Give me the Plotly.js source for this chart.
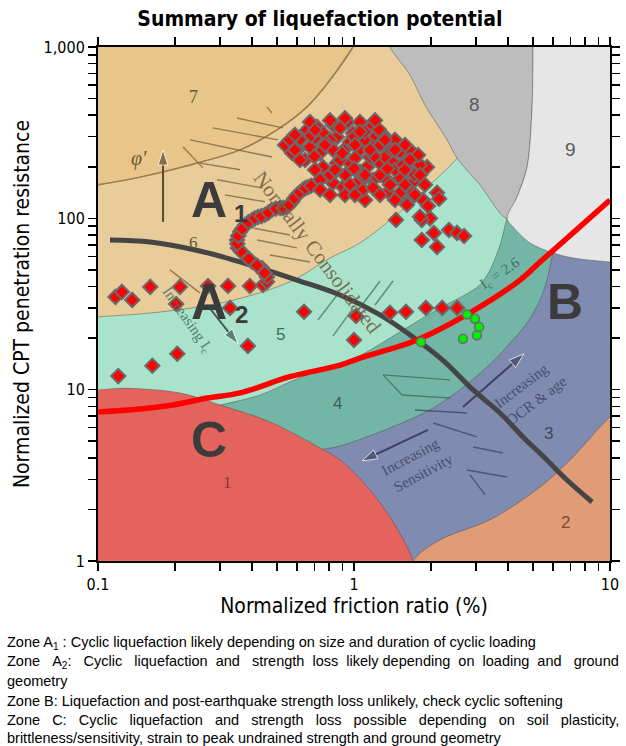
<!DOCTYPE html>
<html><head><meta charset="utf-8">
<script src="https://cdn.plot.ly/plotly-3.0.1.min.js"></script>
<style>html,body{margin:0;padding:0;background:#fff}</style>
</head><body><div id="chart" style="width:626px;height:746px"></div>
<script>
// ---------------- data ----------------
const xTickVals = [0.1,0.2,0.3,0.4,0.5,0.6,0.7,0.8,0.9,1,2,3,4,5,6,7,8,9,10];
const xTickText = ['0.1','','','','','','','','','1','','','','','','','','','10'];
const yTickVals = [1,2,3,4,5,6,7,8,9,10,20,30,40,50,60,70,80,90,100,200,300,400,500,600,700,800,900,1000];
const yTickText = ['1','','','','','','','','','10','','','','','','','','','100','','','','','','','','','1,000'];

// measured CPT points (normalized friction ratio %, normalized tip resistance)
const rfRed = [0.117,0.124,0.136,0.160,0.209,0.202,0.269,0.322,0.328,0.392,0.441,0.457,0.385,0.204,0.163,0.120,
 0.638,1.018,1.00,1.382,1.596,1.91,2.21,2.53,
 1.055,1.298,1.685,1.928,1.104,1.459,1.596,1.70,1.86,1.945,2.11,2.15,1.98,1.84,2.05,1.84,2.11,2.35,2.525,2.69,
 0.457,0.437,0.400,0.375,0.352,0.349,0.359,0.375,0.400,0.422,0.449,0.478,0.514,0.547,0.573,0.599,0.632,0.661,0.704,
 0.447,0.418,0.388,0.362,0.350,0.353,0.366,0.387,0.41,0.435,0.463,0.495,0.53,0.56,0.585,0.615,0.645,0.68,
 0.538,0.573,0.655,0.717,0.828,0.939,0.757,0.858,0.991,1.186,1.298,0.673,0.737,0.828,0.939,1.055,1.186,1.345,1.513,1.685,
 0.757,0.858,0.965,1.124,1.264,1.42,1.61,1.81,0.737,0.828,0.906,1.027,1.186,1.345,1.513,1.70,1.084,1.186,1.358,1.513,1.70,1.61,1.81,
 0.615,0.704,0.882,1.155,1.446,1.582,0.644,0.704,0.806,0.922,1.055,1.264,1.446,1.654,0.882,1.009,1.155,1.32,0.806,0.965,1.104,1.264,
 0.922,1.009,1.264,1.382,1.582,1.73,1.778,
 0.70,0.78,0.90,1.00,1.10,1.20,1.40,1.00,1.10,0.85,1.35,1.55,0.60,0.68,1.25,
 0.673,0.806,1.208,0.922,0.562,0.588,0.615,0.770,1.009,1.155,1.446,1.654,1.81,1.893,1.73,0.843,0.965,1.104,1.446,
 0.704,0.588,1.055,1.32,1.58,0.806,0.737];
const qtRed = [34.8,37.2,33.4,39.8,39.8,31.6,40.3,40.3,30.0,40.3,40.8,42.6,18.0,16.2,13.8,12.0,
 28.5,26.9,19.5,28.1,28.5,30.0,30.0,30.0,
 365,298,241,199,128,97.9,123,139,128,118,141,130,100,97.9,82.2,74.8,68.1,85.5,82.2,78.9,
 45.5,51.3,55.6,61.1,67.2,74.8,83.4,91.4,97.9,102,105,112,115,116,125,137,147,152,157,
 48,53,58,64,71,79,87,95,100,103,108,114,115,120,131,142,150,155,
 268,241,328,342,351,365,315,298,315,298,307,261,241,251,261,251,261,268,244,244,
 199,210,210,199,210,213,213,205,168,161,152,161,168,168,172,163,147,151,143,141,141,120,102,
 287,294,337,337,287,268,219,192,179,179,187,179,192,187,219,225,228,228,287,279,287,268,
 137,137,137,157,157,179,234,
 230,275,240,300,320,230,250,195,172,190,195,205,250,305,330,
 365,373,373,384,287,251,219,268,268,251,251,219,179,157,137,192,157,179,128,
 328,307,320,287,192,137,147];
const rfGreen = [1.827,2.665,2.763,2.97,3.08,3.02];
const qtGreen = [19.0,19.8,27.5,25.9,23.2,20.8];

// trend curves
const blackX = [0.1114,0.160,0.250,0.392,0.599,0.882,1.264,1.763,2.265,2.92,3.72,4.57,5.57,6.79,8.51];
const blackY = [74.8,72.8,64.5,53.5,43.6,35.7,27.3,19.5,14.5,9.96,7.31,5.30,3.99,2.97,2.21];
const redX = [0.1,0.146,0.196,0.267,0.359,0.562,0.882,1.055,1.763,2.92,4.45,5.33,7.17,10];
const redY = [7.41,7.71,8.14,8.94,9.57,11.9,13.9,15.3,19.5,28.8,43.6,55.6,82.2,128];

// soil behaviour type zone outlines (background chart)
const zone6X = [0.05,0.1,0.146,0.229,0.359,0.500,0.655,0.806,0.991,1.1,20,20,0.05];
const zone6Y = [140,157,174,205,251,328,447,642,1000,1600,3000,0.4,0.4];
const zone5X = [0.05,0.1,0.175,0.316,0.562,0.806,1.055,1.513,1.98,2.55,3.40,20,20,0.05];
const zone5Y = [25,26.6,28.4,32.5,42.6,58.7,71.8,109,157,228,429,600,0.4,0.4];
const zone4X = [0.22,0.300,0.430,0.562,0.757,1.027,1.382,1.654,2.17,2.71,3.10,3.40,3.72,3.96,4.14,20,20,0.22];
const zone4Y = [7.5,8.14,9.31,11.1,13.2,15.5,20.0,23.6,30.0,35.7,40.8,50.0,70.0,100,120,140,0.4,0.4];
const zone3X = [0.6,0.737,0.882,1.382,2.04,2.71,3.40,4.07,4.74,5.33,5.67,5.99,6.15,20,20,0.6];
const zone3Y = [4.2,4.45,4.69,5.98,7.82,10.5,14.1,18.7,24.5,33.4,43.6,62.8,71.8,75,0.4,0.4];
const zone2X = [1.5,1.70,2.17,3.40,5.33,7.17,10,14,20];
const zone2Y = [0.5,1,1.33,1.74,2.70,4.05,6.93,10,0.4];
const zone8X = [1.3,1.382,1.654,1.893,2.31,2.525,3.10,3.96,4.33,4.74,4.96,5.0,5.0];
const zone8Y = [1400,1000,687,459,287,225,157,100,133,199,447,1000,1400];
const zone9X = [5.0,5.0,4.96,4.74,4.33,3.96,4.18,4.87,5.99,7.17,10,14,20];
const zone9Y = [1400,1000,447,199,133,100,89.1,71.8,62.8,58.7,55.6,54,3000];
const zone1X = [0.05,0.1,0.125,0.209,0.300,0.470,0.737,0.882,1.155,1.446,1.70,1.9,0.05];
const zone1Y = [9.6,9.96,10.2,9.57,8.14,6.48,4.57,3.89,2.60,1.62,1,0.4,0.4];
const arc76X = [0.1,0.146,0.229,0.359,0.500,0.655,0.806,0.991];
const arc76Y = [157,174,205,251,328,447,642,1000];

// hatch marks and arrows of the background chart
const hatchBrownX = [0.349,0.528,null,0.281,0.505,null,0.229,0.478,null,0.215,0.257,null,0.250,0.359,null,0.292,0.441,null,0.313,0.449,null,0.382,0.562,null,0.418,0.599,null,0.470,0.673,null,0.191,0.250,null,0.457,0.478];
const hatchBrownY = [385,337,null,337,287,null,287,228,null,261,197,null,210,192,null,168,150,null,137,125,null,89.1,80.0,null,74.8,67.2,null,61.1,55.6,null,50.0,36.7,null,447,412];
const hatchTealX = [1.208,1.420,null,1.075,1.264,null,0.723,0.866,null,0.828,0.982,null,1.298,2.371,null,1.298,1.54,null,1.54,2.371];
const hatchTealY = [31.2,43.1,null,31.2,43.1,null,25.5,36.2,null,20.6,29.2,null,12.2,11.4,null,12.2,9.31,null,9.31,8.94];
const hatchBlueX = [1.73,2.763,null,2.04,3.02,null,2.92,3.82,null,2.763,3.96,null,2.84,3.25];
const hatchBlueY = [7.61,7.31,null,6.39,5.30,null,4.63,4.27,null,3.40,3.09,null,3.18,2.43];
const arrowPhiX = [0.1795,0.1795], arrowPhiY = [95.3,251];
const arrowIcX = [0.267,0.352], arrowIcY = [31.2,18.5];
const arrowOcrX = [2.665,4.61], arrowOcrY = [7.92,16.2];
const arrowSensX = [1.945,1.075], arrowSensY = [5.82,3.84];

// ---------------- drawing ----------------
const edge = 'rgba(70,70,60,0.45)';
function zone(x, y, color) {
  return {x: x, y: y, type: 'scatter', mode: 'lines', fill: 'toself', fillcolor: color,
    line: {color: edge, width: 1, shape: 'spline', smoothing: 0.9}, hoverinfo: 'skip', showlegend: false};
}
function lines(x, y, color, w, shape) {
  return {x: x, y: y, type: 'scatter', mode: 'lines', line: {color: color, width: w, shape: shape || 'linear'},
    hoverinfo: 'skip', showlegend: false, connectgaps: false};
}
function arrowTrace(x, y, color) {
  return {x: x, y: y, type: 'scatter', mode: 'lines+markers', line: {color: color, width: 2},
    marker: {symbol: 'arrow', size: [0, 16], color: color, angleref: 'previous', standoff: 0},
    hoverinfo: 'skip', showlegend: false};
}

const traces = [
  zone(zone6X, zone6Y, '#e8cc99'),
  zone(zone5X, zone5Y, '#a9e3cb'),
  zone(zone4X, zone4Y, '#74b6a5'),
  zone(zone3X, zone3Y, '#7f8bb0'),
  zone(zone2X, zone2Y, '#e09b77'),
  zone(zone8X, zone8Y, '#bdbdbd'),
  zone(zone9X, zone9Y, '#e6e6e6'),
  zone(zone1X, zone1Y, '#e4645d'),
  lines(arc76X, arc76Y, '#9a7b50', 1.5, 'spline'),
  lines(hatchBrownX, hatchBrownY, 'rgba(120,95,60,0.75)', 1.4),
  lines(hatchTealX, hatchTealY, 'rgba(60,100,90,0.7)', 1.4),
  lines(hatchBlueX, hatchBlueY, 'rgba(55,65,90,0.7)', 1.4),
  arrowTrace(arrowPhiX, arrowPhiY, '#5a4a30'),
  arrowTrace(arrowIcX, arrowIcY, '#3d5a55'),
  arrowTrace(arrowOcrX, arrowOcrY, '#3f4560'),
  arrowTrace(arrowSensX, arrowSensY, '#3f4560'),
  {x: blackX, y: blackY, type: 'scatter', mode: 'lines', line: {color: '#454545', width: 5, shape: 'spline'}, showlegend: false},
  {x: redX, y: redY, type: 'scatter', mode: 'lines', line: {color: '#ff0000', width: 5.5, shape: 'spline'}, showlegend: false},
  {x: rfRed, y: qtRed, type: 'scatter', mode: 'markers', showlegend: false,
    marker: {symbol: 'diamond', size: 11, color: '#ff0000', line: {color: '#6a6a6a', width: 2}}},
  {x: rfGreen, y: qtGreen, type: 'scatter', mode: 'markers', showlegend: false,
    marker: {symbol: 'circle', size: 9, color: '#00ee00', line: {color: '#6a6a6a', width: 1.5}}}
];

// helpers for annotation placement (pixel position inside the figure -> paper)
function P(px, py) { return {x: (px - 98) / 512, y: (561 - py) / 514}; }
function label(text, px, py, size, color, family, angle) {
  const p = P(px, py);
  return {xref: 'paper', yref: 'paper', x: p.x, y: p.y, text: text, showarrow: false,
    xanchor: 'center', yanchor: 'middle', textangle: angle || 0,
    font: {size: size, color: color, family: family}};
}
const SANS = 'Liberation Sans, Arial, sans-serif';
const SERIF = 'Liberation Serif, DejaVu Serif, serif';
const BIG = 'Liberation Sans, Arial, sans-serif';
const N3 = '\u00a0\u00a0\u00a0', N2 = '\u00a0\u00a0';

const notes = [
  'Zone A<sub>1</sub> : Cyclic liquefaction likely depending on size and duration of cyclic loading',
  'Zone' + N3 + 'A<sub>2</sub>:' + N3 + 'Cyclic' + N3 + 'liquefaction' + N2 + 'and' + N3 + 'strength' + N2 + 'loss' + N2 +
    'likely depending' + N2 + 'on' + N2 + 'loading' + N2 + 'and' + N3 + 'ground',
  'geometry',
  'Zone B: Liquefaction and post-earthquake strength loss unlikely, check cyclic softening',
  ['Zone', 'C:', 'Cyclic', 'liquefaction', 'and', 'strength', 'loss', 'possible', 'depending', 'on', 'soil', 'plasticity,'].join(N3),
  'brittleness/sensitivity, strain to peak undrained strength and ground geometry'
];
const noteY = [643, 662, 681, 701, 720, 738];

const annotations = [
  label('7', 193, 97, 18, '#6b5535', SERIF),
  label('6', 193, 242, 17, '#6b5535', SERIF),
  label('5', 280, 334, 17, '#3d6a60', SANS),
  label('4', 337, 403, 17, '#3b5f58', SANS),
  label('3', 548, 433, 17, '#3f4560', SANS),
  label('2', 565, 522, 17, '#7a4a35', SANS),
  label('1', 227, 482, 17, '#8a3535', SERIF),
  label('8', 474, 104, 19, '#5a5a5a', SANS),
  label('9', 570, 150, 19, '#5a5a5a', SANS),
  label('<b>A</b>', 209, 200, 50, '#3b3b3b', BIG),
  label('<b>1</b>', 240, 214, 24, '#3b3b3b', BIG),
  label('<b>A</b>', 209, 302, 50, '#3b3b3b', BIG),
  label('<b>2</b>', 241, 315, 24, '#3b3b3b', BIG),
  label('<b>C</b>', 209, 440, 50, '#3b3b3b', BIG),
  label('<b>B</b>', 565, 302, 50, '#3b3b3b', BIG),
  label('<i>φ\'</i>', 139, 158, 20, '#6b5535', SERIF),
  label('Normally Consolidated', 317, 252, 21, 'rgba(110,90,60,0.85)', SERIF, 53),
  label('Increasing I<sub>c</sub>', 187, 320, 15, 'rgba(70,110,100,0.9)', SERIF, 55),
  label('I<sub>c</sub> = 2.6', 500, 274, 15, 'rgba(60,100,90,0.9)', SERIF, -34),
  label('Increasing', 521, 386, 15, 'rgba(60,70,100,0.9)', SERIF, -37),
  label('OCR & age', 536, 401, 15, 'rgba(60,70,100,0.9)', SERIF, -37),
  label('Increasing', 410, 457, 15, 'rgba(60,70,100,0.9)', SERIF, -28),
  label('Sensitivity', 423, 473, 15, 'rgba(60,70,100,0.9)', SERIF, -28)
];
notes.forEach(function(t, i) {
  const p = P(5, noteY[i]);
  annotations.push({xref: 'paper', yref: 'paper', x: p.x, y: p.y, text: t, showarrow: false,
    xanchor: 'left', yanchor: 'middle', align: 'left',
    font: {size: 14.5, color: '#000', family: 'Liberation Sans, Arial, sans-serif'}});
});

const axFont = 'DejaVu Sans Condensed, DejaVu Sans, sans-serif';
const layout = {
  width: 626, height: 746,
  margin: {l: 98, r: 16, t: 47, b: 185},
  paper_bgcolor: '#ffffff', plot_bgcolor: '#e8c689',
  showlegend: false,
  title: {text: '<b>Summary of liquefaction potential</b>', x: 0.511, xref: 'container', xanchor: 'center',
    y: 0.975, yref: 'container', yanchor: 'middle', font: {family: axFont, size: 21, color: '#000'}},
  xaxis: {type: 'log', range: [-1, 1], tickmode: 'array', tickvals: xTickVals, ticktext: xTickText,
    ticks: 'outside', ticklen: 8, tickwidth: 1.5, tickcolor: '#000', showline: true, linewidth: 2,
    linecolor: '#000', mirror: 'ticks', showgrid: false, zeroline: false,
    tickfont: {family: axFont, size: 16, color: '#000'},
    title: {text: 'Normalized friction ratio (%)', standoff: 5, font: {family: axFont, size: 21, color: '#000'}}},
  yaxis: {type: 'log', range: [0, 3], tickmode: 'array', tickvals: yTickVals, ticktext: yTickText,
    ticks: 'outside', ticklen: 8, tickwidth: 1.5, tickcolor: '#000', showline: true, linewidth: 2,
    linecolor: '#000', mirror: 'ticks', showgrid: false, zeroline: false,
    tickfont: {family: axFont, size: 16, color: '#000'},
    title: {text: 'Normalized CPT penetration resistance', standoff: 8, font: {family: axFont, size: 21, color: '#000'}}},
  annotations: annotations
};

Plotly.newPlot('chart', traces, layout, {displayModeBar: false, staticPlot: true});
</script></body></html>
